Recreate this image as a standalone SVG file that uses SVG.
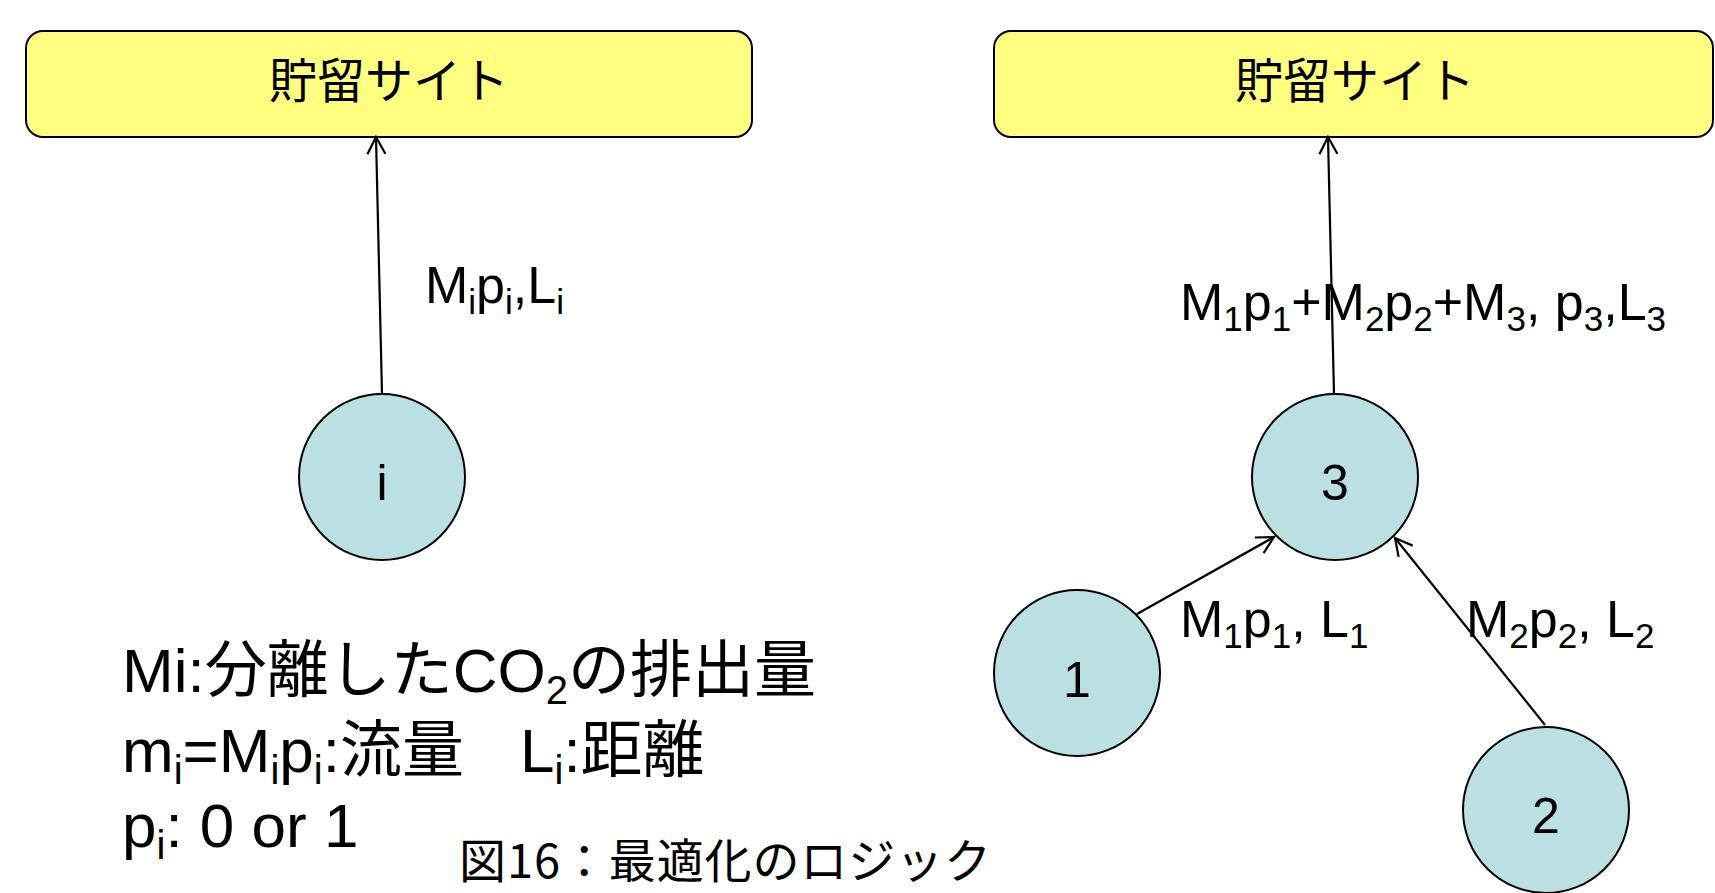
<svg xmlns="http://www.w3.org/2000/svg" width="1715" height="893" viewBox="0 0 1715 893">
<style>
.box{fill:#FFFF80;stroke:#000;stroke-width:2}
.node{fill:#BBE0E3;stroke:#000;stroke-width:2}
.t{font-family:"Liberation Sans","Noto Sans CJK JP",sans-serif;fill:#000}
.jp{font-family:"Noto Sans CJK JP","Liberation Sans",sans-serif;fill:#000}
.lbl{font-size:52px}
.num{font-size:50px;text-anchor:middle}
.sub{font-size:35px}
.conn{stroke:#000;stroke-width:2.2;fill:none;marker-end:url(#arr)}
</style>
<defs>
<marker id="arr" markerUnits="userSpaceOnUse" markerWidth="22" markerHeight="22" viewBox="0 0 22 22" refX="20" refY="11" orient="auto">
<path d="M3,2 L20,11 L3,20" fill="none" stroke="#000" stroke-width="2.2"/>
</marker>
</defs>
<rect width="1715" height="893" fill="#fff"/>
<g id="site-left">
<rect class="box" x="26" y="31" width="726" height="106" rx="17"/>
<text class="jp" x="389" y="98" font-size="48" text-anchor="middle">貯留サイト</text>
</g>
<g id="site-right">
<rect class="box" x="994" y="31" width="719" height="106" rx="17"/>
<text class="jp" x="1355" y="98" font-size="48" text-anchor="middle">貯留サイト</text>
</g>
<g id="connectors">
<line class="conn" x1="382" y1="394" x2="376" y2="137"/>
<line class="conn" x1="1334" y1="394" x2="1328" y2="137"/>
<line class="conn" x1="1137" y1="614" x2="1274" y2="537"/>
<line class="conn" x1="1545" y1="725" x2="1395" y2="538"/>
</g>
<g id="node-i">
<circle class="node" cx="382" cy="477" r="83"/>
<text class="t num" x="382" y="500">i</text>
</g>
<g id="node-3">
<circle class="node" cx="1335" cy="477" r="83"/>
<text class="t num" x="1335" y="500">3</text>
</g>
<g id="node-1">
<circle class="node" cx="1077" cy="673" r="83"/>
<text class="t num" x="1077" y="697">1</text>
</g>
<g id="node-2">
<circle class="node" cx="1546" cy="810" r="83"/>
<text class="t num" x="1546" y="833">2</text>
</g>
<g id="labels">
<text class="t lbl" x="425" y="303">M<tspan class="sub" dy="11">i</tspan><tspan dy="-11">p</tspan><tspan class="sub" dy="11">i</tspan><tspan dy="-11">,L</tspan><tspan class="sub" dy="11">i</tspan></text>
<text class="t lbl" x="1180" y="320">M<tspan class="sub" dy="11">1</tspan><tspan dy="-11">p</tspan><tspan class="sub" dy="11">1</tspan><tspan dy="-11">+M</tspan><tspan class="sub" dy="11">2</tspan><tspan dy="-11">p</tspan><tspan class="sub" dy="11">2</tspan><tspan dy="-11">+M</tspan><tspan class="sub" dy="11">3</tspan><tspan dy="-11">, p</tspan><tspan class="sub" dy="11">3</tspan><tspan dy="-11">,L</tspan><tspan class="sub" dy="11">3</tspan></text>
<text class="t lbl" x="1180" y="637">M<tspan class="sub" dy="11">1</tspan><tspan dy="-11">p</tspan><tspan class="sub" dy="11">1</tspan><tspan dy="-11">, L</tspan><tspan class="sub" dy="11">1</tspan></text>
<text class="t lbl" x="1466" y="637">M<tspan class="sub" dy="11">2</tspan><tspan dy="-11">p</tspan><tspan class="sub" dy="11">2</tspan><tspan dy="-11">, L</tspan><tspan class="sub" dy="11">2</tspan></text>
</g>
<g id="legend">
<text class="t" x="122" y="692" font-size="62">Mi:分離したCO<tspan font-size="40" dy="12">2</tspan><tspan dy="-12">の排出量</tspan></text>
<text class="t" x="122" y="772" font-size="62">m<tspan font-size="40" dy="12">i</tspan><tspan dy="-12">=M</tspan><tspan font-size="40" dy="12">i</tspan><tspan dy="-12">p</tspan><tspan font-size="40" dy="12">i</tspan><tspan dy="-12">:流量</tspan><tspan x="520">L</tspan><tspan font-size="40" dy="12">i</tspan><tspan dy="-12">:距離</tspan></text>
<text class="t" x="122" y="847" font-size="62">p<tspan font-size="40" dy="12">i</tspan><tspan dy="-12">: 0 or 1</tspan></text>
</g>
<g id="caption">
<text class="jp" x="459" y="878" font-size="47" textLength="532" lengthAdjust="spacing">図16：最適化のロジック</text>
</g>
</svg>
